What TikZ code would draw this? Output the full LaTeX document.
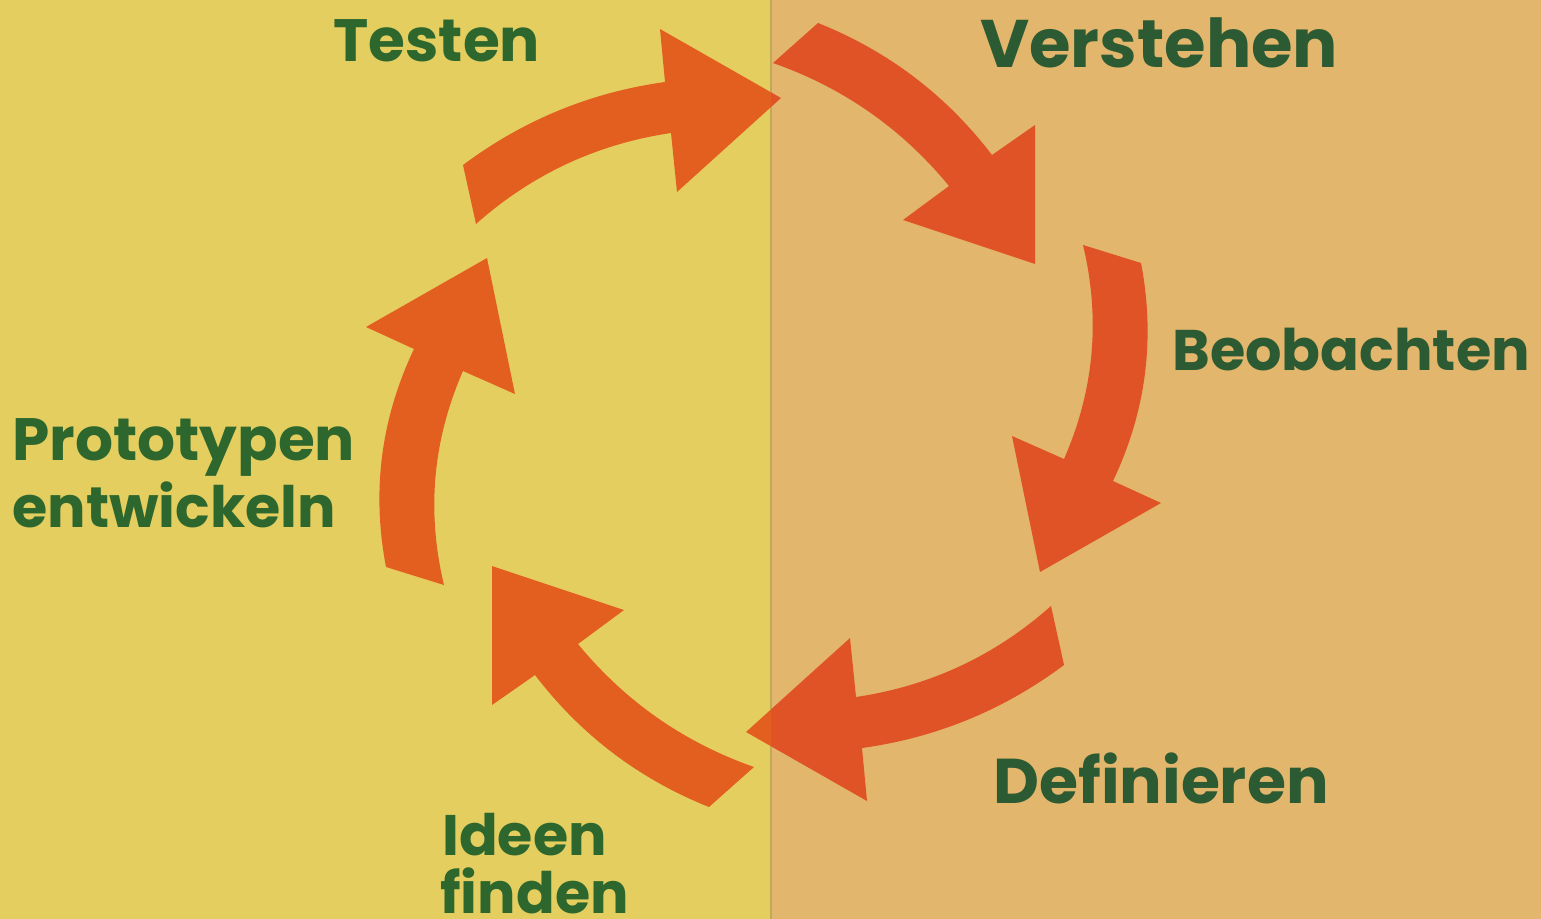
\documentclass[tikz,border=0pt]{standalone}
\usepackage{fontspec}
\newfontfamily\stagefont{Poppins}

\definecolor{bg left}{HTML}{E5CE60}
\definecolor{bg right}{HTML}{E2B66C}
\definecolor{arrow left}{HTML}{E35F20}
\definecolor{arrow right}{HTML}{E05326}
\definecolor{text left}{HTML}{2D672D}
\definecolor{text right}{HTML}{2C5A33}

% 三個箭頭 (上、右上、右)，另外三個以 180 度旋轉得到
\newcommand\halfcycle{%
  \fill (463,165) .. controls (523.3,120) and (590.6,92.3) .. (665,82)
    -- (660,29) -- (781,98) -- (677,192) -- (671,133)
    .. controls (596.9,144) and (531.9,174.3) .. (476,224) -- cycle;
  \fill (818,23) .. controls (888.1,51) and (946.1,95) .. (992,155)
    -- (1035,125) -- (1035,264) -- (903,220) -- (949,186)
    .. controls (901.8,128.6) and (843.1,87.6) .. (773,63) -- cycle;
  \fill (1141,263) .. controls (1155.5,338.7) and (1146.1,411.4) .. (1113,481)
    -- (1161,503) -- (1040,572) -- (1012,436) -- (1064,459)
    .. controls (1094.3,389.8) and (1100.6,318.5) .. (1083,245) -- cycle;}
\newcommand\fullcycle{%
  \halfcycle
  \begin{scope}[rotate around={180:(763.5,415)}]
    \halfcycle
  \end{scope}}

\begin{document}
\begin{tikzpicture}[
        x=0.02cm, y=-0.02cm,
        % 定義通用樣式
        stage text/.style={font={\stagefont\bfseries\fontsize{#1}{#1}\selectfont},
          anchor=base west, inner sep=0pt}, % 階段文字
        left text/.style={text=text left}, % 左半邊文字顏色
        right text/.style={text=text right}, % 右半邊文字顏色
        seam/.style={draw=bg left!70!bg right!85!black, line width=0.6pt} % 中間分界線
    ]

        % 1. 背景 (左黃、右橘)
        \useasboundingbox (0,0) rectangle (1541,919);
        \fill[bg left] (0,0) rectangle (771,919);
        \fill[bg right] (771,0) rectangle (1541,919);
        \draw[seam] (771,0) -- (771,919);

        % 2. 循環箭頭 (左右兩半顏色不同)
        \begin{scope}[fill=arrow left]
            \clip (0,0) rectangle (771,919);
            \fullcycle
        \end{scope}
        \begin{scope}[fill=arrow right]
            \clip (771,0) rectangle (1541,919);
            \fullcycle
        \end{scope}

        % 3. 階段名稱
        \node[stage text=34, left text] (testen) at (333,62) {Testen};
        \node[stage text=38.3, right text] (verstehen) at (980,68) {Verstehen};
        \node[stage text=32.6, right text] (beobachten) at (1172,370) {Beobachten};
        \node[stage text=36, right text] (definieren) at (993,803) {Definieren};
        \node[stage text=32.5, left text] (ideen) at (442,855) {Ideen};
        \node[stage text=32.5, left text] (finden) at (440,913) {finden};
        \node[stage text=34, left text] (prototypen) at (12,460) {Prototypen};
        \node[stage text=32.5, left text] (entwickeln) at (12,527) {entwickeln};

    \end{tikzpicture}
\end{document}
